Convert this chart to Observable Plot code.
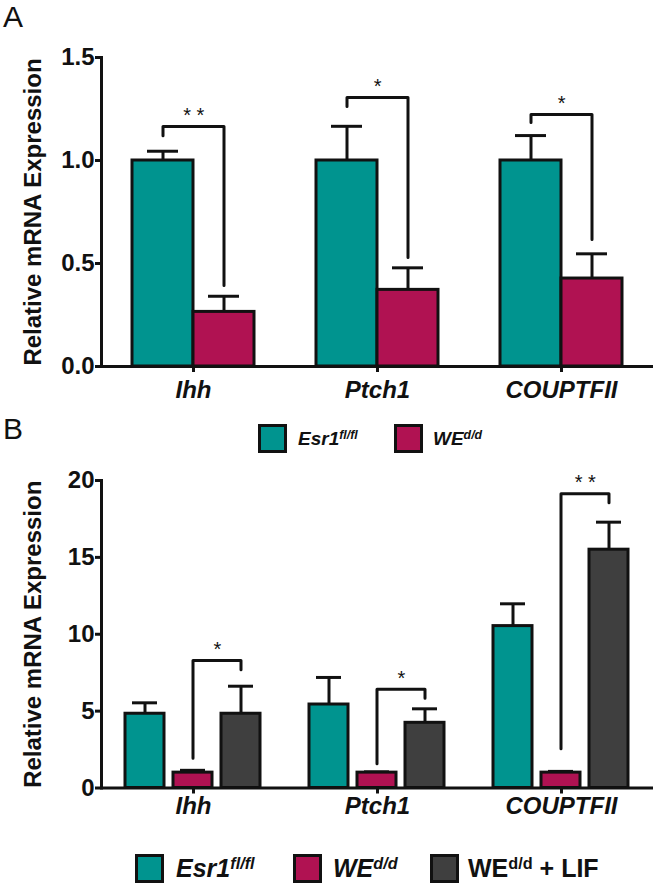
<!DOCTYPE html>
<html><head><meta charset="utf-8">
<script src="https://cdn.jsdelivr.net/npm/d3@7"></script>
<script src="https://cdn.jsdelivr.net/npm/@observablehq/plot@0.6"></script>
<style>
body{margin:0;background:#fff;font-family:"Liberation Sans",Arial,sans-serif;}
#wrap{position:relative;width:656px;height:886px;overflow:hidden;}
.panel{position:absolute;font-size:30px;line-height:normal;color:#111;}
.plot{position:absolute;left:0;}
.leg{position:absolute;display:flex;align-items:center;font-weight:bold;color:#111;white-space:nowrap;}
.sw{box-sizing:border-box;width:29px;height:29px;border:3.5px solid #111;flex:none;}
.it{font-style:italic;}
.leg sup{font-size:0.65em;vertical-align:0.5em;line-height:0;}
svg [aria-label="fx-axis tick label"]{font-style:italic;}
svg [aria-label*="axis"], svg [aria-label="frame"]{stroke-width:3px;}
svg [aria-label="y-axis label"]{font-size:24px;}
</style>
</head><body>
<div id="wrap">
  <div class="panel" style="left:3px;top:0px;">A</div>
  <div class="panel" style="left:3px;top:412px;">B</div>
  <div id="plotA" class="plot" style="top:0px;"></div>
  <div id="plotB" class="plot" style="top:460px;"></div>
</div>
<script>
// ---------- data ----------
const genes = ["Ihh", "Ptch1", "COUPTFII"];
const groupsA = ["Esr1 fl/fl", "WE d/d"];
const groupsB = ["Esr1 fl/fl", "WE d/d", "WE d/d + LIF"];
const colors = ["#00948f", "#b01252", "#3f3f3f"];

// Panel A: mean and SEM
const aEsrMean = [1.00, 1.00, 1.00];
const aEsrSE   = [0.045, 0.166, 0.121];
const aWeMean  = [0.265, 0.372, 0.427];
const aWeSE    = [0.076, 0.107, 0.120];
// Panel A significance brackets (Esr1 vs WE)
const aBrLeft  = [1.12, 1.262, 1.184];
const aBrTop   = [1.165, 1.306, 1.223];
const aBrRight = [0.393, 0.529, 0.617];
const aStars   = ["* *", "*", "*"];
const aTicks   = [0, 0.5, 1.0, 1.5];

// Panel B: mean and SEM
const bEsrMean = [4.83, 5.43, 10.53];
const bEsrSE   = [0.71, 1.76, 1.45];
const bWeMean  = [1.0, 1.0, 1.0];
const bWeSE    = [0.15, 0.05, 0.08];
const bLifMean = [4.83, 4.24, 15.5];
const bLifSE   = [1.79, 0.91, 1.79];
// Panel B significance brackets (WE vs WE + LIF)
const bBrLeft  = [1.94, 1.57, 2.55];
const bBrTop   = [8.3, 6.43, 19.14];
const bBrRight = [7.69, 5.84, 18.56];
const bStars   = ["*", "*", "* *"];
const bTicks   = [0, 5, 10, 15, 20];

// ---------- build tables ----------
function rowsFrom(groups, means, ses) {
  const rows = [];
  genes.forEach((g, i) => groups.forEach((grp, k) => {
    rows.push({gene: g, group: grp, mean: means[k][i], hi: means[k][i] + ses[k][i]});
  }));
  return rows;
}
function bracketsFrom(lg, rg, left, top, right) {
  const pts = [];
  genes.forEach((g, i) => {
    pts.push({id: g, gene: g, group: lg, y: left[i]});
    pts.push({id: g, gene: g, group: lg, y: top[i]});
    pts.push({id: g, gene: g, group: rg, y: top[i]});
    pts.push({id: g, gene: g, group: rg, y: right[i]});
  });
  return pts;
}
function starsFrom(lg, top, labels) {
  return genes.map((g, i) => ({gene: g, group: lg, y: top[i], label: labels[i]}));
}

const rowsA = rowsFrom(groupsA, [aEsrMean, aWeMean], [aEsrSE, aWeSE]);
const brA = bracketsFrom(groupsA[0], groupsA[1], aBrLeft, aBrTop, aBrRight);
const stA = starsFrom(groupsA[0], aBrTop, aStars);

const rowsB = rowsFrom(groupsB, [bEsrMean, bWeMean, bLifMean], [bEsrSE, bWeSE, bLifSE]);
const brB = bracketsFrom(groupsB[1], groupsB[2], bBrLeft, bBrTop, bBrRight);
const stB = starsFrom(groupsB[1], bBrTop, bStars);

const W = 656, ML = 100, MR = 3;

function chart({rows, groups, brackets, stars, yDomain, yTicks, fmt, height, marginTop, marginBottom, padIn, padOut, capInset, tickPad}) {
  const fxBand = (W - ML - MR) / genes.length;
  const step = fxBand / (groups.length - padIn + 2 * padOut);
  const starDx = step / 2;
  return Plot.plot({
    width: W, height, marginLeft: ML, marginRight: MR, marginTop, marginBottom,
    style: {fontFamily: "Liberation Sans, Arial, sans-serif", fontSize: "24px", fontWeight: "bold", color: "#111", background: "transparent", overflow: "visible"},
    fx: {domain: genes, padding: 0, label: null, tickSize: 6, tickPadding: tickPad, axis: "bottom"},
    x: {domain: groups, axis: null, paddingInner: padIn, paddingOuter: padOut},
    y: {domain: yDomain, ticks: yTicks, tickFormat: fmt, tickSize: 6, tickPadding: 1, line: true,
        label: "Relative mRNA Expression", labelAnchor: "center", labelOffset: 78, labelArrow: "none"},
    color: {domain: groups, range: colors.slice(0, groups.length)},
    marks: [
      Plot.ruleX(rows, {fx: "gene", x: "group", y1: "mean", y2: "hi", stroke: "#111", strokeWidth: 3}),
      Plot.tickY(rows, {fx: "gene", x: "group", y: "hi", stroke: "#111", strokeWidth: 3, insetLeft: capInset, insetRight: capInset}),
      Plot.barY(rows, {fx: "gene", x: "group", y: "mean", fill: "group", stroke: "#111", strokeWidth: 3}),
      Plot.line(brackets, {fx: "gene", x: "group", y: "y", z: "id", stroke: "#111", strokeWidth: 3}),
      Plot.text(stars, {fx: "gene", x: "group", y: "y", text: "label", dx: starDx, dy: -11, fontSize: 20, fontWeight: "normal", fill: "#111"}),
      Plot.ruleY([0], {stroke: "#111", strokeWidth: 3})
    ]
  });
}

document.getElementById("plotA").append(chart({
  rows: rowsA, groups: groupsA, brackets: brA, stars: stA,
  yDomain: [0, 1.5], yTicks: aTicks, fmt: d3.format(".1f"),
  height: 410, marginTop: 57, marginBottom: 44, padIn: 0, padOut: 0.5, capInset: 15, tickPad: 8
}));
document.getElementById("plotB").append(chart({
  rows: rowsB, groups: groupsB, brackets: brB, stars: stB,
  yDomain: [0, 20], yTicks: bTicks, fmt: d3.format("d"),
  height: 370, marginTop: 20, marginBottom: 42.5, padIn: 0.18, padOut: 0.485, capInset: 7, tickPad: 3
}));

// ---------- legends ----------
function legItem(left, top, color, html, fontSize, gap) {
  const d = document.createElement("div");
  d.className = "leg";
  d.style.left = left + "px"; d.style.top = top + "px"; d.style.height = "29px";
  d.style.fontSize = fontSize + "px";
  d.innerHTML = `<div class="sw" style="background:${color}"></div><span style="margin-left:${gap}px">${html}</span>`;
  document.getElementById("wrap").append(d);
}
const legLabels = [
  '<span class="it">Esr1<sup>fl/fl</sup></span>',
  '<span class="it">WE<sup>d/d</sup></span>',
  'WE<sup>d/d</sup> + LIF'
];
legItem(258, 424, colors[0], legLabels[0], 19, 11);
legItem(394, 424, colors[1], legLabels[1], 19, 10);
legItem(135, 854, colors[0], legLabels[0], 25, 12);
legItem(293, 854, colors[1], legLabels[1], 25, 11);
legItem(430, 854, colors[2], legLabels[2], 25, 9);
</script>
</body></html>
